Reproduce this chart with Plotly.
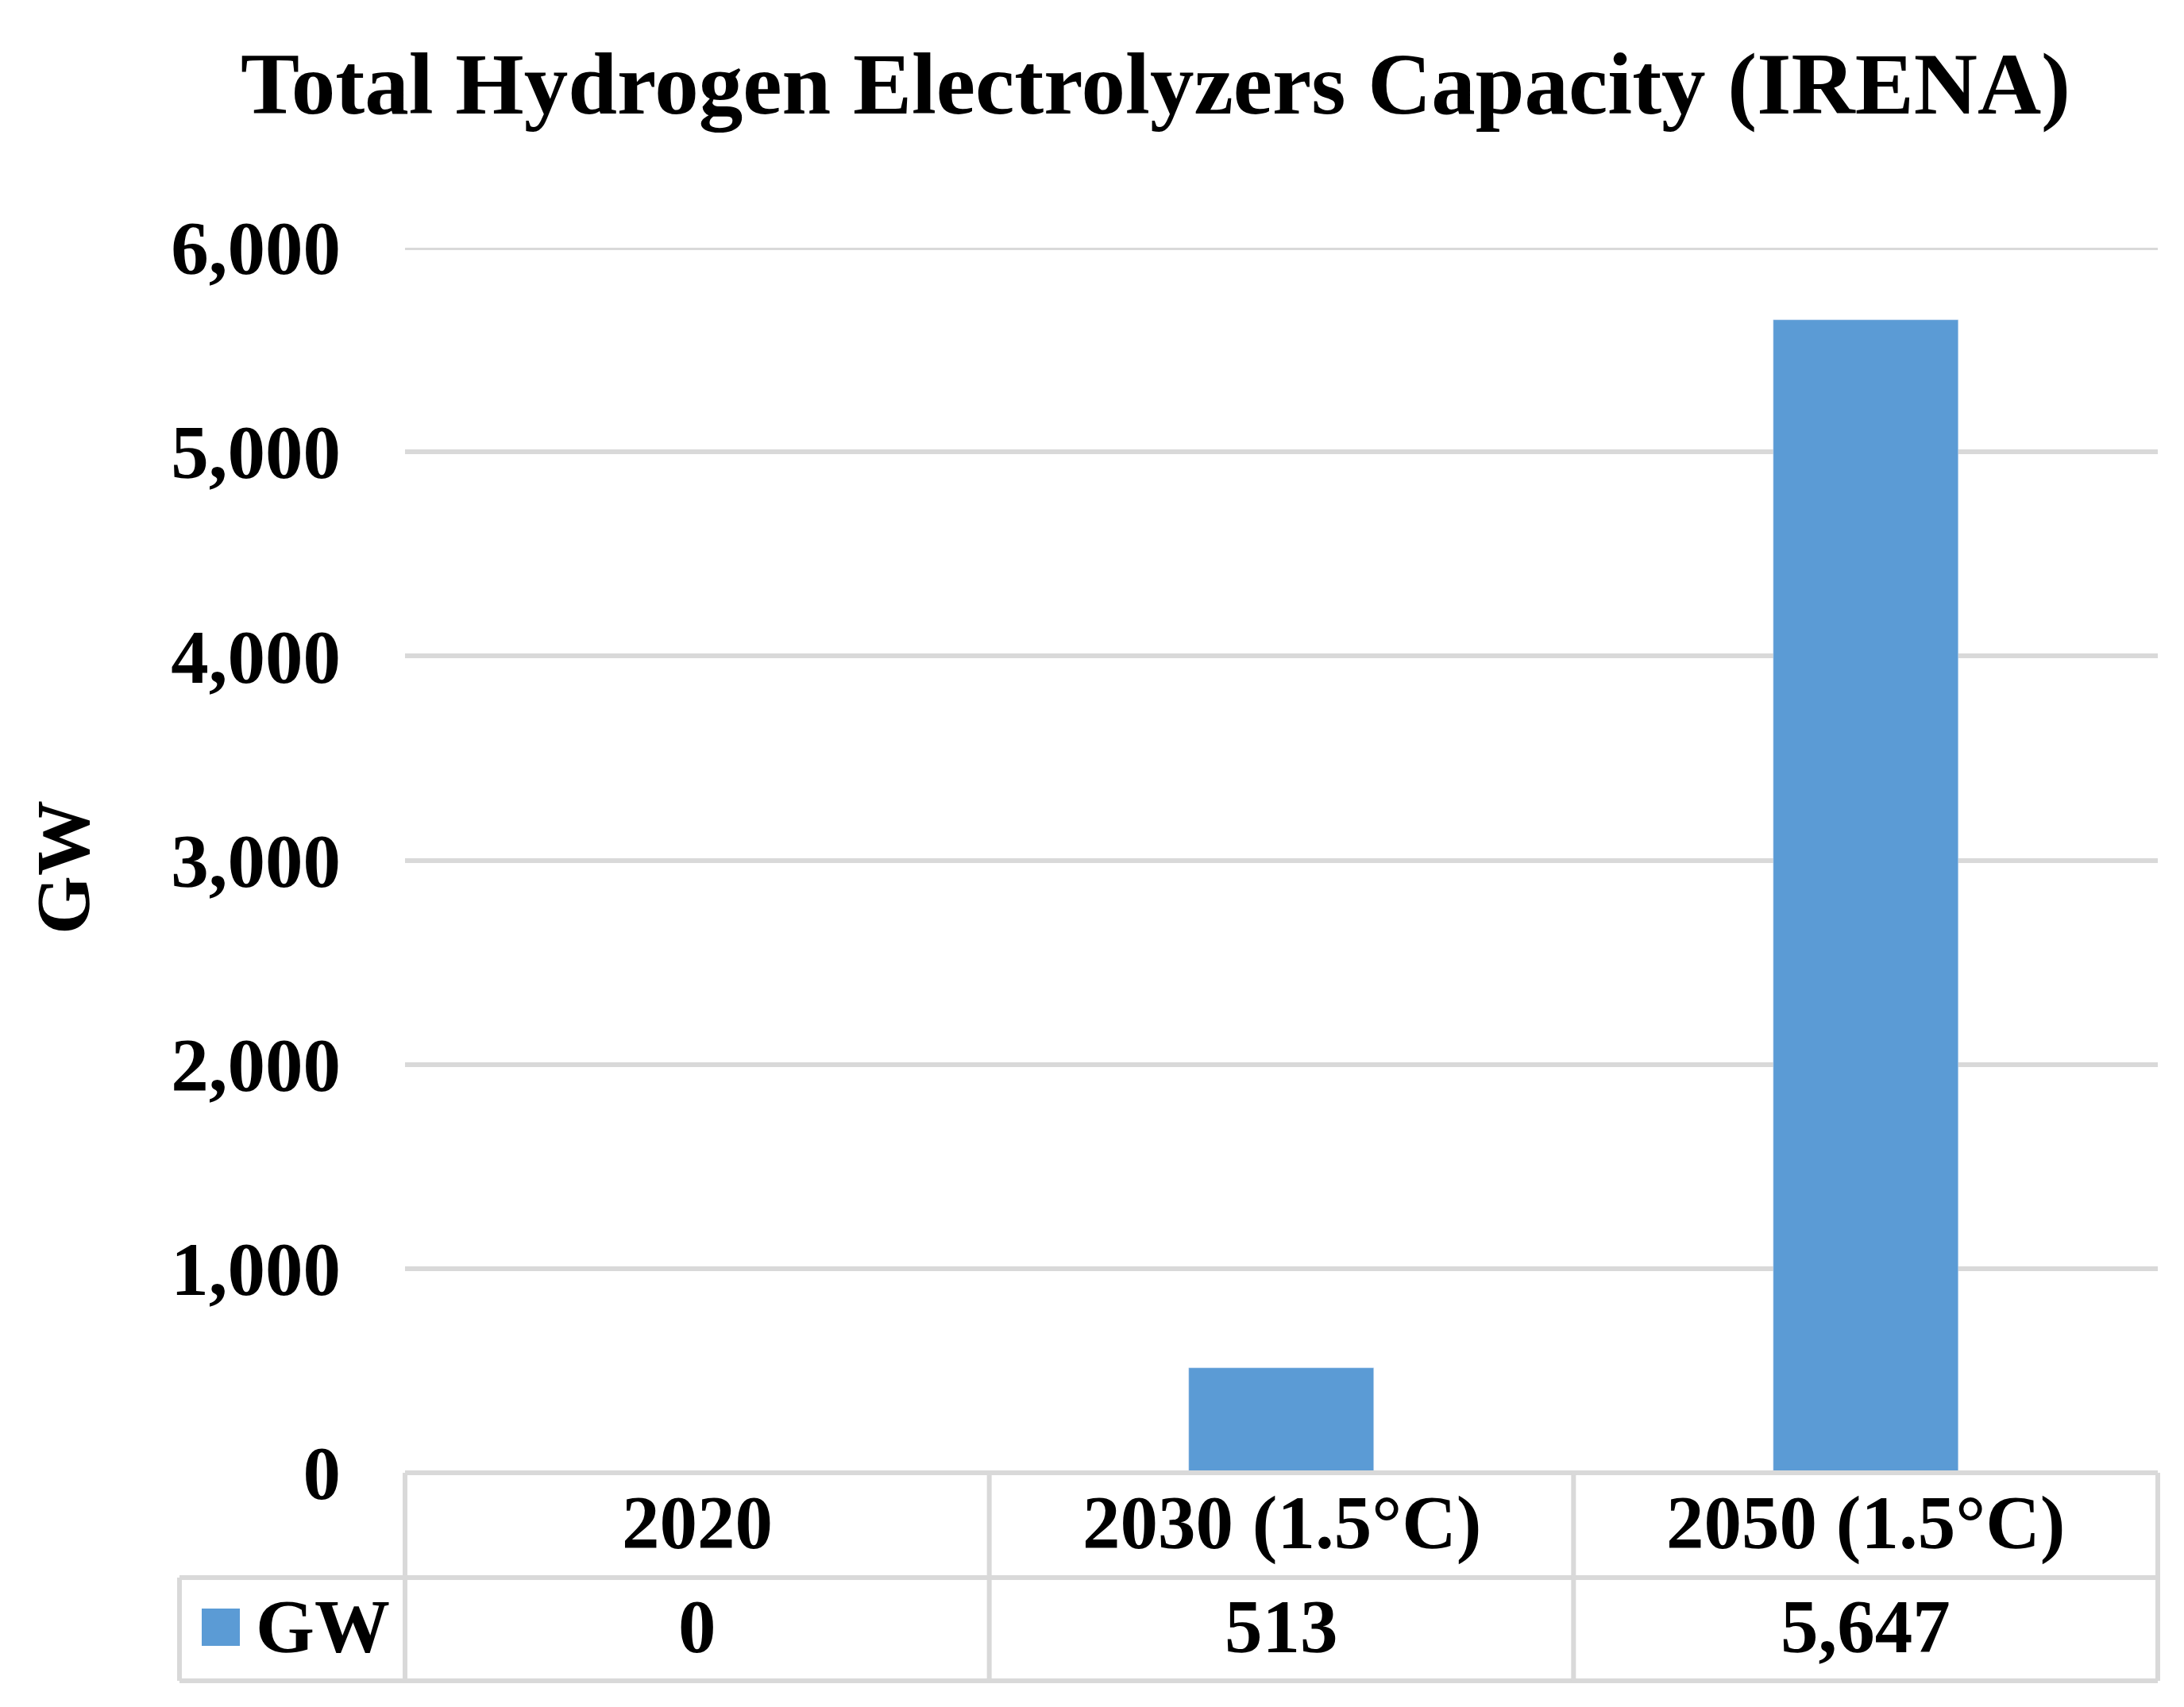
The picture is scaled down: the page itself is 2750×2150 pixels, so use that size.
import plotly.graph_objects as go

categories = ["2020", "2030 (1.5°C)", "2050 (1.5°C)"]
values = [0, 513, 5647]
value_labels = ["0", "513", "5,647"]
series_name = "GW"
y_ticks = [0, 1000, 2000, 3000, 4000, 5000, 6000]
y_tick_labels = ["0", "1,000", "2,000", "3,000", "4,000", "5,000", "6,000"]
title_text = "Total Hydrogen Electrolyzers Capacity (IRENA)"
y_title = "GW"

W, H = 2750, 2150
L, R, T, B = 502, 2709, 304, 1847  # plot area in pixels
FONT = "Liberation Serif"
GRID = "#D9D9D9"
BLUE = "#5B9BD5"
pw, ph = R - L, B - T

def px(x):
    return (x - L) / pw

def py(y):
    return (B - y) / ph

fig = go.Figure()
fig.add_trace(go.Bar(x=list(range(len(categories))), y=values, marker_color=BLUE,
                     width=0.317, name=series_name, showlegend=False))

row1_top, row1_bot, row2_bot = B, 1979, 2109
table_left = 218
shapes = []
lw = 6
# top gridline (at range edge)
shapes.append(dict(type="line", xref="paper", yref="y", x0=0, x1=1, y0=y_ticks[-1], y1=y_ticks[-1], line=dict(color=GRID, width=lw), layer="below"))
# horizontal lines
shapes.append(dict(type="line", xref="paper", yref="paper", x0=0, x1=1, y0=py(row1_top), y1=py(row1_top), line=dict(color=GRID, width=lw)))
for yy in (row1_bot, row2_bot):
    shapes.append(dict(type="line", xref="paper", yref="paper", x0=px(table_left), x1=1, y0=py(yy), y1=py(yy), line=dict(color=GRID, width=lw)))
# vertical lines
shapes.append(dict(type="line", xref="paper", yref="paper", x0=px(table_left), x1=px(table_left), y0=py(row1_bot), y1=py(row2_bot), line=dict(color=GRID, width=lw)))
for i in range(len(categories) + 1):
    xv = i / len(categories)
    shapes.append(dict(type="line", xref="paper", yref="paper", x0=xv, x1=xv, y0=py(row1_top), y1=py(row2_bot), line=dict(color=GRID, width=lw)))
# legend key
shapes.append(dict(type="rect", xref="paper", yref="paper", x0=px(246), x1=px(294), y0=py(2018), y1=py(2065), fillcolor=BLUE, line=dict(width=0)))

annotations = []
for i, (c, v) in enumerate(zip(categories, value_labels)):
    annotations.append(dict(x=i, xref="x", y=py(1910), yref="paper", text="<b>" + c + "</b>", showarrow=False,
                            font=dict(family=FONT, size=95, color="black"), xanchor="center", yanchor="middle"))
    annotations.append(dict(x=i, xref="x", y=py(2041), yref="paper", text="<b>" + v + "</b>", showarrow=False,
                            font=dict(family=FONT, size=95, color="black"), xanchor="center", yanchor="middle"))
annotations.append(dict(x=px(312), xref="paper", y=py(2041), yref="paper", text="<b>" + series_name + "</b>", showarrow=False,
                        font=dict(family=FONT, size=95, color="black"), xanchor="left", yanchor="middle"))
annotations.append(dict(x=px(72), xref="paper", y=py(1085), yref="paper", text="<b>" + y_title + "</b>", showarrow=False,
                        textangle=-90, font=dict(family=FONT, size=95, color="black"), xanchor="center", yanchor="middle"))

fig.update_layout(
    width=W, height=H,
    margin=dict(l=L, r=W - R, t=T, b=H - B, pad=0),
    paper_bgcolor="white", plot_bgcolor="white",
    title=dict(text="<b>" + title_text + "</b>", x=1447 / W, xanchor="center", y=1 - 96 / H, yanchor="middle",
               font=dict(family=FONT, size=111, color="black")),
    xaxis=dict(range=[-0.5, 2.5], showticklabels=False, showgrid=False, zeroline=False, showline=False, ticks=""),
    yaxis=dict(range=[0, 6000], tickvals=y_ticks, ticktext=["<b>" + t + "</b>" for t in y_tick_labels],
               tickfont=dict(family=FONT, size=95, color="black"), showgrid=True, gridcolor=GRID, gridwidth=lw,
               zeroline=False, showline=False, ticks="", ticklabelstandoff=80),
    shapes=shapes, annotations=annotations, bargap=0,
)

fig.write_html("out.html")
